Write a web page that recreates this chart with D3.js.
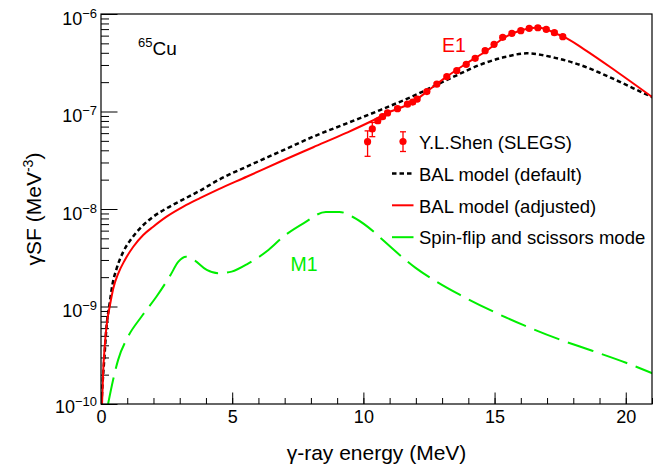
<!DOCTYPE html>
<html>
<head>
<meta charset="utf-8">
<script src="https://cdn.jsdelivr.net/npm/d3@7"></script>
<style>
body{margin:0;background:#fff;}
svg{display:block;font-family:"Liberation Sans",Arial,Helvetica,sans-serif;}
</style>
</head>
<body>
<div id="chart"></div>
<script>
// SLEGS points (MeV, MeV^-3)
const dataE = [10.16,10.34,10.55,10.73,10.92,11.30,11.68,11.88,12.05,12.42,12.80,13.18,13.56,13.92,14.26,14.64,14.98,15.31,15.66,16.00,16.32,16.65,16.97,17.28,17.60];
const dataSF = [4.90e-8,6.62e-8,8.04e-8,8.85e-8,9.66e-8,1.07e-7,1.19e-7,1.25e-7,1.34e-7,1.60e-7,1.91e-7,2.28e-7,2.62e-7,3.05e-7,3.51e-7,4.21e-7,4.89e-7,5.77e-7,6.34e-7,6.74e-7,7.13e-7,7.23e-7,6.97e-7,6.43e-7,5.85e-7];
const dataErr = [1.43e-8,1.10e-8,4.0e-9,3.6e-9,3.9e-9,4.3e-9,4.8e-9,5.0e-9,5.4e-9,6.4e-9,7.6e-9,9.1e-9,1.05e-8,1.22e-8,1.4e-8,1.68e-8,1.95e-8,2.3e-8,2.5e-8,2.7e-8,2.85e-8,2.9e-8,2.8e-8,2.6e-8,2.3e-8];

// BAL model (default)
const balDefE = [0.02,0.04,0.14,0.20,0.33,0.44,0.60,0.85,1.17,1.55,1.99,2.50,3.14,3.77,4.47,5.55,6.82,8.09,9.37,10.64,11.91,13.31,14.65,15.40,16.23,17.31,18.45,19.02,20.29,21.02];
const balDefSF = [1.0e-10,1.29e-10,3.31e-10,5.75e-10,1.08e-9,1.70e-9,2.47e-9,3.65e-9,5.00e-9,6.58e-9,8.34e-9,1.016e-8,1.256e-8,1.54e-8,1.98e-8,2.72e-8,3.87e-8,5.52e-8,7.57e-8,1.035e-7,1.445e-7,2.19e-7,3.16e-7,3.63e-7,3.95e-7,3.55e-7,2.88e-7,2.49e-7,1.73e-7,1.40e-7];

// BAL model (adjusted)
const balAdjE = [0.04,0.08,0.14,0.24,0.33,0.47,0.66,0.91,1.23,1.61,1.99,2.50,3.14,3.77,4.47,5.55,6.82,8.09,9.37,10.26,10.89,11.91,12.42,13.18,13.88,14.64,15.34,16.04,16.65,16.97,17.31,17.63,18.40,19.66,21.02];
const balAdjSF = [1.0e-10,2.07e-10,3.87e-10,7.28e-10,9.95e-10,1.54e-9,2.19e-9,3.00e-9,4.10e-9,5.41e-9,6.58e-9,8.34e-9,1.057e-8,1.29e-8,1.59e-8,2.14e-8,3.05e-8,4.30e-8,6.07e-8,7.85e-8,9.59e-8,1.26e-7,1.60e-7,2.28e-7,3.05e-7,4.10e-7,5.64e-7,6.85e-7,7.29e-7,7.0e-7,6.34e-7,5.85e-7,4.37e-7,2.56e-7,1.40e-7];

// spin-flip + scissors (M1)
const m1E = [0.27,0.46,0.65,1.03,1.54,2.11,2.63,2.95,3.24,3.58,4.03,4.47,4.98,5.62,6.38,6.95,7.73,8.57,9.09,9.60,10.18,10.70,11.35,11.99,12.77,13.67,14.84,16.13,17.42,18.72,20.01,21.04];
const m1SF = [1.0e-10,1.76e-10,2.82e-10,4.90e-10,7.85e-10,1.26e-9,2.06e-9,2.88e-9,3.24e-9,2.95e-9,2.37e-9,2.19e-9,2.28e-9,2.77e-9,3.79e-9,5.21e-9,7.18e-9,9.33e-9,9.33e-9,8.28e-9,6.52e-9,4.92e-9,3.44e-9,2.49e-9,1.81e-9,1.32e-9,9.16e-10,6.40e-10,4.65e-10,3.52e-10,2.65e-10,2.05e-10];

const xMajor = [0,5,10,15,20];
const yExp = [-10,-9,-8,-7,-6];
const legendLabels = ["Y.L.Shen (SLEGS)","BAL model (default)","BAL model (adjusted)","Spin-flip and scissors mode"];

const margin = {top:14, right:18, bottom:62, left:101};
const width = 670 - margin.left - margin.right;
const height = 466 - margin.top - margin.bottom;

const svg = d3.select("#chart").append("svg")
    .attr("width", 670)
    .attr("height", 466);
svg.append("rect").attr("width",670).attr("height",466).attr("fill","#fff");

const chart = svg.append("g")
    .attr("transform", "translate(" + margin.left + "," + margin.top + ")");

const x = d3.scaleLinear().domain([0,21]).range([0,width]);
const y = d3.scaleLog().domain([1e-10,1e-6]).range([height,0]);

chart.append("clipPath").attr("id","clip")
  .append("rect").attr("width",width).attr("height",height);

// axes, ticks point inward
const xMinor = d3.range(0,22,1);
chart.append("g")
    .attr("transform","translate(0," + height + ")")
    .call(d3.axisBottom(x).tickValues(xMinor).tickSize(-6).tickFormat(""))
    .call(g => g.select(".domain").remove());

chart.append("g")
    .attr("class","axis")
    .attr("transform","translate(0," + height + ")")
    .call(d3.axisBottom(x).tickValues(xMajor).tickSize(-11.5).tickPadding(6.5).tickFormat(d3.format("d")))
    .call(g => g.select(".domain").remove())
    .call(g => g.selectAll("text").attr("font-size",18).attr("font-family",null).attr("fill","#000"));

const yMajor = yExp.map(e => Math.pow(10,e));
const yMinor = [];
yExp.slice(0,-1).forEach(e => { for (let k = 2; k < 10; k++) yMinor.push(k*Math.pow(10,e)); });

chart.append("g")
    .call(d3.axisLeft(y).tickValues(yMinor).tickSize(-8).tickFormat(""))
    .call(g => g.select(".domain").remove());

chart.append("g")
    .call(d3.axisLeft(y).tickValues(yMajor).tickSize(-16.5).tickPadding(4).tickFormat(""))
    .call(g => g.select(".domain").remove())
    .call(g => g.selectAll(".tick text").each(function(d){
        const t = d3.select(this)
          .attr("font-size",18).attr("font-family",null).attr("fill","#000")
          .attr("dy", d === 1e-10 ? 8 : 10);
        t.append("tspan").text("10");
        t.append("tspan").attr("dy",-7).attr("font-size",13).text("\u2212" + (-Math.round(Math.log10(d))));
    }));

chart.selectAll(".tick line").attr("stroke","#000").attr("stroke-width",1);

// curves
const line = d3.line()
    .x(d => x(d[0]))
    .y(d => y(d[1]))
    .curve(d3.curveMonotoneX);

const curves = chart.append("g").attr("clip-path","url(#clip)");

curves.append("path")
    .datum(balDefE.map((e,i) => [e, balDefSF[i]]))
    .attr("fill","none")
    .attr("stroke","#000")
    .attr("stroke-width",2.5)
    .attr("stroke-dasharray","4.5,3")
    .attr("d", line);

curves.append("path")
    .datum(balAdjE.map((e,i) => [e, balAdjSF[i]]))
    .attr("fill","none")
    .attr("stroke","#ff0000")
    .attr("stroke-width",2)
    .attr("d", line);

curves.append("path")
    .datum(m1E.map((e,i) => [e, m1SF[i]]))
    .attr("fill","none")
    .attr("stroke","#00ee00")
    .attr("stroke-width",2)
    .attr("stroke-dasharray","27,9")
    .attr("d", line);

// data points with error bars
const pts = chart.append("g")
    .selectAll("g")
    .data(dataE.map((e,i) => ({e:e, v:dataSF[i], err:dataErr[i]})))
    .enter().append("g");

pts.append("line")
    .attr("x1", d => x(d.e)).attr("x2", d => x(d.e))
    .attr("y1", d => y(d.v - d.err)).attr("y2", d => y(d.v + d.err))
    .attr("stroke","#ff0000").attr("stroke-width",1.3);
[-1,1].forEach(s => {
  pts.append("line")
    .attr("x1", d => x(d.e) - 3).attr("x2", d => x(d.e) + 3)
    .attr("y1", d => y(d.v + s*d.err)).attr("y2", d => y(d.v + s*d.err))
    .attr("stroke","#ff0000").attr("stroke-width",1.3);
});
pts.append("circle")
    .attr("cx", d => x(d.e)).attr("cy", d => y(d.v))
    .attr("r",3.6).attr("fill","#ff0000");

// frame
chart.append("rect")
    .attr("width",width).attr("height",height)
    .attr("fill","none").attr("stroke","#000").attr("stroke-width",1.2);

// labels
chart.append("text")
    .attr("x",37).attr("y",41)
    .call(t => {
      t.append("tspan").attr("font-size",13).attr("dy",-8).text("65");
      t.append("tspan").attr("font-size",19).attr("dy",8).text("Cu");
    });

chart.append("text")
    .attr("x",341).attr("y",37.7)
    .attr("font-size",19.5).attr("fill","#ff0000")
    .text("E1");

chart.append("text")
    .attr("x",189.5).attr("y",256.5)
    .attr("font-size",19.5).attr("fill","#00ee00")
    .text("M1");

// legend
const legend = chart.append("g")
    .attr("font-size",18.5)
    .selectAll("g")
    .data(legendLabels)
    .enter().append("g")
    .attr("transform", (d,i) => "translate(291," + (127.5 + i*31.9) + ")");

legend.append("text")
    .attr("x",27).attr("y",7.2)
    .text(d => d);

legend.filter((d,i) => i === 0).call(g => {
  g.append("line").attr("x1",11).attr("x2",11).attr("y1",-9.7).attr("y2",10)
    .attr("stroke","#ff0000").attr("stroke-width",1.3);
  g.append("line").attr("x1",8).attr("x2",14).attr("y1",-9.7).attr("y2",-9.7)
    .attr("stroke","#ff0000").attr("stroke-width",1.3);
  g.append("line").attr("x1",8).attr("x2",14).attr("y1",10).attr("y2",10)
    .attr("stroke","#ff0000").attr("stroke-width",1.3);
  g.append("circle").attr("cx",11).attr("cy",0).attr("r",3.6).attr("fill","#ff0000");
});

const legendStroke = [null, ["#000",2.5,"4.5,3"], ["#ff0000",2,null], ["#00ee00",2,null]];
legend.filter((d,i) => i > 0).append("line")
    .attr("x1",0).attr("x2",21.5).attr("y1",0).attr("y2",0)
    .attr("stroke", (d,i) => legendStroke[i+1][0])
    .attr("stroke-width", (d,i) => legendStroke[i+1][1])
    .attr("stroke-dasharray", (d,i) => legendStroke[i+1][2]);

// axis titles
svg.append("text")
    .attr("x", margin.left + width/2).attr("y",460)
    .attr("text-anchor","middle")
    .attr("font-size",21)
    .text("\u03b3-ray energy (MeV)");

svg.append("text")
    .attr("transform","translate(41," + (margin.top + height/2) + ") rotate(-90)")
    .attr("text-anchor","middle")
    .attr("font-size",21)
    .call(t => {
      t.append("tspan").text("\u03b3SF (MeV");
      t.append("tspan").attr("font-size",14).attr("dy",-8).text("-3");
      t.append("tspan").attr("dy",8).text(")");
    });
</script>
</body>
</html>
